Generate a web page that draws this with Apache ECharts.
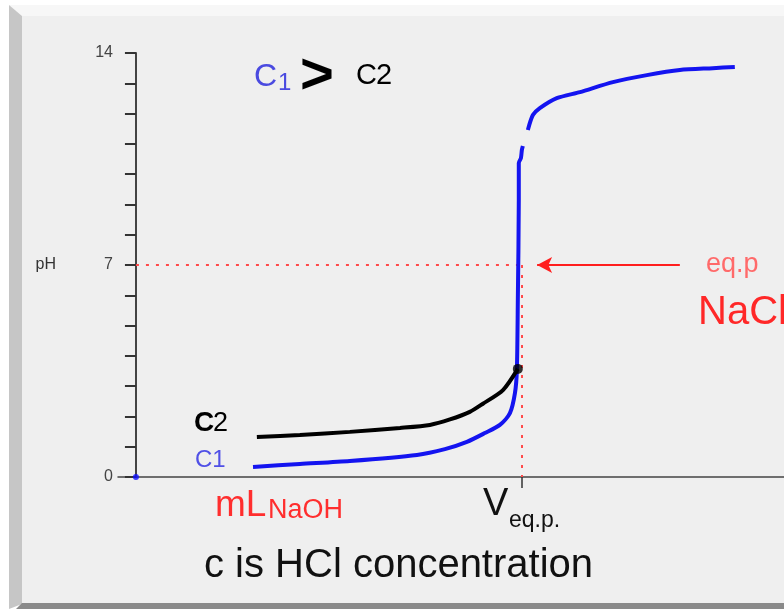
<!DOCTYPE html>
<html>
<head>
<meta charset="utf-8">
<script src="https://cdn.jsdelivr.net/npm/echarts@6/dist/echarts.min.js"></script>
<style>
html,body{margin:0;padding:0;background:#ffffff;}
#chart{width:784px;height:609px;}
</style>
</head>
<body>
<div id="chart"></div>
<script>
// ---- data (x: mL NaOH, y: pH) ----
const eqVolume = 20;
const eqPH = 7;
const yTickLabels = [0, 7, 14];
const c1Points = [
  [6.07, 0.33], [8.50, 0.43], [11.09, 0.53], [14.57, 0.73], [16.02, 0.92],
  [17.16, 1.16], [18.09, 1.45], [18.87, 1.72], [19.39, 2.11], [19.65, 2.77],
  [19.75, 3.53], [19.80, 5.84], [19.85, 9.14], [19.85, 10.37], [19.96, 10.53],
  [20.01, 10.80], [20.06, 10.93], null,
  [20.32, 11.46], [20.58, 11.95], [20.94, 12.18], [21.82, 12.51], [23.02, 12.71],
  [24.73, 13.04], [26.49, 13.27], [28.20, 13.44], [29.91, 13.50], [31.05, 13.54]
];
const c2Points = [
  [6.27, 1.32], [8.50, 1.39], [11.09, 1.49], [13.69, 1.62], [15.24, 1.72],
  [16.28, 1.90], [17.31, 2.15], [17.99, 2.42], [19.03, 2.87], [19.80, 3.57]
];
const originPoint = [[0, 0]];
const arrowFrom = [28.2, 7];
const arrowTo = [20.8, 7];

const FONT = '"Liberation Sans", Arial, sans-serif';
const chart = echarts.init(document.getElementById('chart'), null, {renderer: 'canvas'});

function txt(x, y, text, size, color, extra) {
  return {
    type: 'text', x: x, y: y, z: 100,
    style: Object.assign({
      text: text, fill: color, font: size + 'px ' + FONT,
      textAlign: 'left', textVerticalAlign: 'bottom'
    }, extra || {})
  };
}

const option = {
  animation: false,
  backgroundColor: 'transparent',
  grid: {left: 118, right: 0, top: 53, bottom: 132, containLabel: false},
  xAxis: {
    type: 'value', min: -0.93, max: 33.6,
    axisLine: {show: true, onZero: true, lineStyle: {color: '#444', width: 1.5}},
    axisTick: {show: true, customValues: [eqVolume], length: 11, lineStyle: {color: '#333', width: 1.5}},
    axisLabel: {show: false},
    splitLine: {show: false}
  },
  yAxis: {
    type: 'value', min: 0, max: 14, interval: 1,
    name: 'pH', nameLocation: 'middle', nameGap: 62, nameRotate: 0,
    nameTextStyle: {color: '#333', fontSize: 16, fontFamily: FONT},
    axisLine: {show: true, onZero: true, lineStyle: {color: '#444', width: 2}},
    axisTick: {show: true, length: 11, lineStyle: {color: '#333', width: 2}},
    axisLabel: {
      margin: 5, color: '#444', fontSize: 16, fontFamily: FONT,
      formatter: function (v) { return yTickLabels.indexOf(v) >= 0 ? String(v) : ''; }
    },
    splitLine: {show: false}
  },
  series: [
    {
      name: 'C1', type: 'line', data: c1Points, showSymbol: false, connectNulls: false,
      smooth: 0.25,
      lineStyle: {color: '#1414f0', width: 4}, z: 5,
      markLine: {
        silent: true, symbol: ['none', 'none'],
        lineStyle: {color: '#ff4a4a', width: 2, type: [3, 7]},
        label: {show: false},
        data: [
          [{coord: [0, eqPH]}, {coord: [eqVolume, eqPH]}],
          [{coord: [eqVolume, eqPH]}, {coord: [eqVolume, 0]}]
        ]
      }
    },
    {
      name: 'C2', type: 'line', data: c2Points, showSymbol: false,
      smooth: 0.25,
      lineStyle: {color: '#000000', width: 4}, z: 6
    },
    {
      name: 'eqC2', type: 'scatter', data: [c2Points[c2Points.length - 1]],
      symbol: 'circle', symbolSize: 10, itemStyle: {color: '#000'}, z: 7
    },
    {
      name: 'origin', type: 'scatter', data: originPoint,
      symbol: 'circle', symbolSize: 6, itemStyle: {color: '#1010ff'}, z: 7
    },
    {
      name: 'arrow', type: 'line', data: [],
      markLine: {
        silent: true, symbol: ['none', 'arrow'], symbolSize: [12, 15],
        lineStyle: {color: '#ff1e1e', width: 2, type: 'solid'},
        itemStyle: {color: '#ff1e1e'},
        label: {show: false},
        data: [[{coord: arrowFrom}, {coord: arrowTo}]]
      }
    }
  ],
  graphic: [
    // frame
    {type: 'polygon', z: -10, shape: {points: [[9, 5], [784, 5], [784, 16], [22, 16]]}, style: {fill: '#f7f7f7'}},
    {type: 'polygon', z: -10, shape: {points: [[9, 5], [22, 16], [22, 604], [9, 609]]}, style: {fill: '#c6c6c6'}},
    {type: 'rect', z: -10, shape: {x: 22, y: 16, width: 762, height: 588}, style: {fill: '#efefef'}},
    {type: 'polygon', z: -10, shape: {points: [[22, 603], [784, 603], [784, 609], [16, 609]]}, style: {fill: '#8a8a8a'}},
    // C1 > C2
    txt(254, 93, 'C', 32, '#4a4ae0'),
    txt(278, 95, '1', 24, '#4a4ae0'),
    txt(300, 106, '>', 58, '#000', {font: 'bold 58px ' + FONT}),
    txt(356, 90, 'C', 29, '#000'),
    txt(376, 90, '2', 29, '#000'),
    // curve labels
    txt(194, 437, 'C', 28, '#000', {font: 'bold 28px ' + FONT}),
    txt(213, 437, '2', 27, '#000'),
    txt(195, 472, 'C1', 24, '#5050e6'),
    // x labels
    txt(215, 524, 'mL', 37, '#ff2e2e'),
    txt(268, 524, 'NaOH', 27, '#ff2e2e'),
    txt(483, 524, 'V', 38, '#111'),
    txt(509, 532, 'eq.p.', 23, '#111'),
    txt(204, 586, 'c is HCl concentration', 40, '#111'),
    // eq.p / NaCl
    txt(706, 278, 'eq.p', 27, '#ff6a6a'),
    txt(698, 333, 'NaCl', 40, '#ff2828')
  ]
};
chart.setOption(option);
</script>
</body>
</html>
